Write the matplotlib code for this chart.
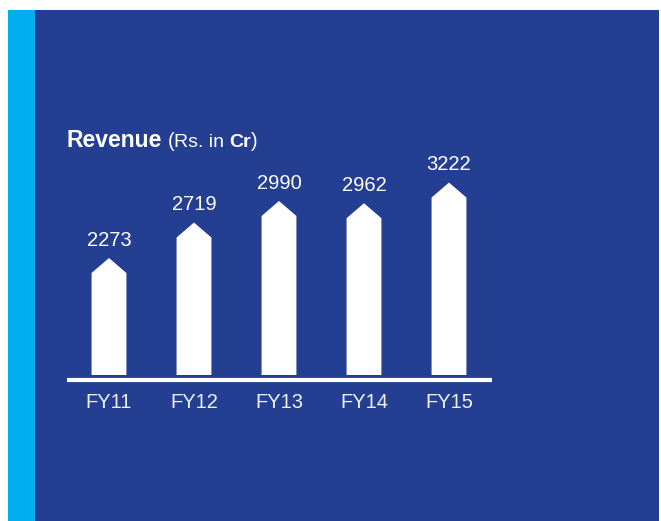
import numpy as np
import matplotlib.pyplot as plt
from matplotlib.patches import Rectangle

years = ["FY11", "FY12", "FY13", "FY14", "FY15"]
revenue = [2273, 2719, 2990, 2962, 3222]

navy = "#243f92"
cyan = "#00aeef"
W, H = 661, 521

fig = plt.figure(figsize=(W / 100, H / 100), dpi=100)
fig.patch.set_facecolor("white")

# background panel + left strip
fig.patches.append(Rectangle((8 / W, 0), 651 / W, 511 / H, transform=fig.transFigure,
                             facecolor=navy, edgecolor="none", zorder=-2))
fig.patches.append(Rectangle((8 / W, 0), 27 / W, 511 / H, transform=fig.transFigure,
                             facecolor=cyan, edgecolor="none", zorder=-2))

ax = fig.add_axes([67 / W, (H - 385) / H, 425 / W, 235 / H])
ax.set_zorder(2)
ax.set_axis_off()
ax.patch.set_alpha(0)

k = 0.0795          # pixels per Rs. Cr
base = 990          # value at the foot of the bars
ax.set_xlim(-0.494, 4.506)
ax.set_ylim(base - 10 / k, base + 225 / k)

hw = 0.205          # half bar width
tip = 15 / k        # height of the arrow point
x = np.arange(len(years))
for xi, v in zip(x, revenue):
    xs = [xi - hw, xi - hw, xi, xi + hw, xi + hw]
    ys = [base, v, v + tip, v, base]
    ax.fill(xs, ys, color="white", lw=0)
    ax.annotate(str(v), (xi, v + tip), xytext=(0, 6), textcoords="offset points",
                ha="center", va="bottom", color="white", fontsize=14.5,
                family="Liberation Sans")
    ax.text(xi, base - 27 / k, years[xi], ha="center", va="center", color="#eef1f8",
            fontsize=14.5, family="Liberation Sans")

ax.axhline(base - 5 / k, color="white", lw=3)

# title built from pieces with different weights
r = fig.canvas.get_renderer()
parts = [("Revenue", 16.5, "bold", 0), ("(", 14.5, "normal", 5), ("Rs. in ", 14, "normal", 0),
         ("Cr", 14, "bold", 0), (")", 14.5, "normal", 0)]
xpos = 67
for txt, fs, wt, gap in parts:
    xpos += gap
    t = fig.text(xpos / W, (H - 147) / H, txt, color="white", fontsize=fs, weight=wt,
                 family="Liberation Sans", va="baseline", ha="left", zorder=3)
    bb = t.get_window_extent(r)
    xpos = bb.x1

fig.savefig("out.png", dpi=100, facecolor="white")
